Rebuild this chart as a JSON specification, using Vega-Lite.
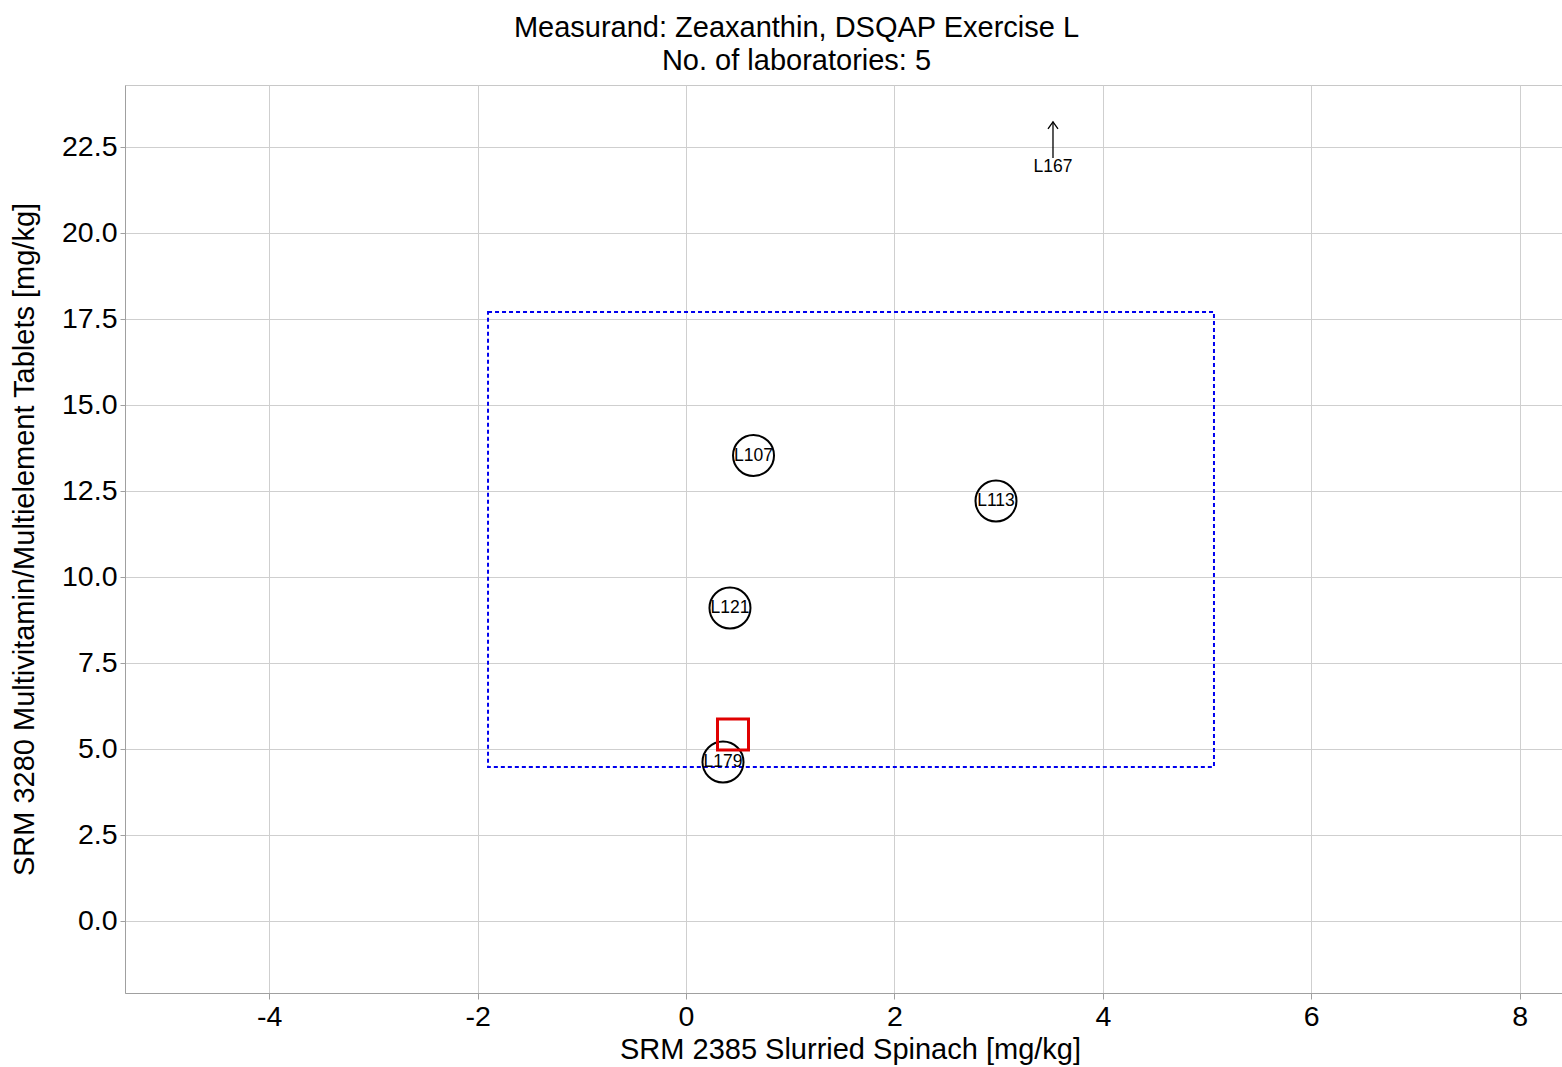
{
  "$schema": "https://vega.github.io/schema/vega-lite/v6.json",
  "width": 1437,
  "height": 908,
  "autosize": "none",
  "padding": {"left": 125, "top": 85, "right": 0, "bottom": 74},
  "background": "white",
  "config": {
    "font": "Liberation Sans",
    "view": {"stroke": "#c8c8c8", "strokeWidth": 1},
    "axis": {
      "gridColor": "#cfcfcf",
      "gridWidth": 1,
      "domainColor": "#a0a0a0",
      "tickColor": "#a0a0a0",
      "labelColor": "#000000",
      "titleColor": "#000000",
      "labelFont": "Liberation Sans",
      "titleFont": "Liberation Sans",
      "labelFontSize": 28.5,
      "titleFontSize": 29,
      "titleFontWeight": "normal"
    }
  },
  "title": {
    "text": ["Measurand: Zeaxanthin, DSQAP Exercise L", "No. of laboratories: 5"],
    "fontSize": 29,
    "fontWeight": "normal",
    "font": "Liberation Sans",
    "color": "#000000",
    "lineHeight": 33,
    "anchor": "middle",
    "dx": -47,
    "offset": 9
  },
  "datasets": {
    "labs": [
      {"lab": "L107", "x": 0.648, "y": 13.53},
      {"lab": "L113", "x": 2.975, "y": 12.21},
      {"lab": "L121", "x": 0.422, "y": 9.10},
      {"lab": "L179", "x": 0.355, "y": 4.62}
    ],
    "consensus": [{"x": 0.451, "y": 5.42}],
    "box": [{"x1": -1.9, "x2": 5.067, "y1": 4.477, "y2": 17.70}],
    "arrow": [{"lab": "L167", "x": 3.522, "ylo": 22.18, "yhi": 23.23, "ylab": 21.92}]
  },
  "layer": [
    {
      "data": {"name": "box"},
      "mark": {"type": "rect", "filled": false, "fill": null, "stroke": "#0000ee", "strokeWidth": 2, "strokeDash": [4, 3]},
      "encoding": {
        "x": {
          "field": "x1", "type": "quantitative",
          "scale": {"domain": [-5.384, 8.407], "nice": false, "zero": false},
          "axis": {"values": [-4, -2, 0, 2, 4, 6, 8], "title": "SRM 2385 Slurried Spinach [mg/kg]", "tickSize": 6, "labelPadding": 3, "titlePadding": 5, "titleX": 725, "labelExpr": "toString(datum.value)"}
        },
        "x2": {"field": "x2"},
        "y": {
          "field": "y1", "type": "quantitative",
          "scale": {"domain": [-2.093, 24.30], "nice": false, "zero": false},
          "axis": {"values": [0, 2.5, 5, 7.5, 10, 12.5, 15, 17.5, 20, 22.5], "format": ".1f", "title": "SRM 3280 Multivitamin/Multielement Tablets [mg/kg]", "tickSize": 5, "labelPadding": 3, "titlePadding": 22}
        },
        "y2": {"field": "y2"}
      }
    },
    {
      "data": {"name": "labs"},
      "mark": {"type": "point", "shape": "circle", "filled": false, "stroke": "#000000", "strokeWidth": 2, "size": 1681, "opacity": 1},
      "encoding": {
        "x": {"field": "x", "type": "quantitative"},
        "y": {"field": "y", "type": "quantitative"}
      }
    },
    {
      "data": {"name": "labs"},
      "mark": {"type": "text", "fontSize": 17.5, "color": "#000000", "align": "center", "baseline": "middle"},
      "encoding": {
        "x": {"field": "x", "type": "quantitative"},
        "y": {"field": "y", "type": "quantitative"},
        "text": {"field": "lab"}
      }
    },
    {
      "data": {"name": "consensus"},
      "mark": {"type": "point", "shape": "square", "filled": false, "stroke": "#e00000", "strokeWidth": 3, "size": 961, "opacity": 1},
      "encoding": {
        "x": {"field": "x", "type": "quantitative"},
        "y": {"field": "y", "type": "quantitative"}
      }
    },
    {
      "data": {"name": "arrow"},
      "mark": {"type": "rule", "color": "#000000", "strokeWidth": 1.3},
      "encoding": {
        "x": {"field": "x", "type": "quantitative"},
        "y": {"field": "ylo", "type": "quantitative"},
        "y2": {"field": "yhi"}
      }
    },
    {
      "data": {"name": "arrow"},
      "mark": {"type": "point", "shape": "M-1,1.4L0,0L1,1.4", "filled": false, "stroke": "#000000", "strokeWidth": 1.3, "size": 100, "opacity": 1},
      "encoding": {
        "x": {"field": "x", "type": "quantitative"},
        "y": {"field": "yhi", "type": "quantitative"}
      }
    },
    {
      "data": {"name": "arrow"},
      "mark": {"type": "text", "fontSize": 17.5, "color": "#000000", "align": "center", "baseline": "middle"},
      "encoding": {
        "x": {"field": "x", "type": "quantitative"},
        "y": {"field": "ylab", "type": "quantitative"},
        "text": {"field": "lab"}
      }
    }
  ]
}
